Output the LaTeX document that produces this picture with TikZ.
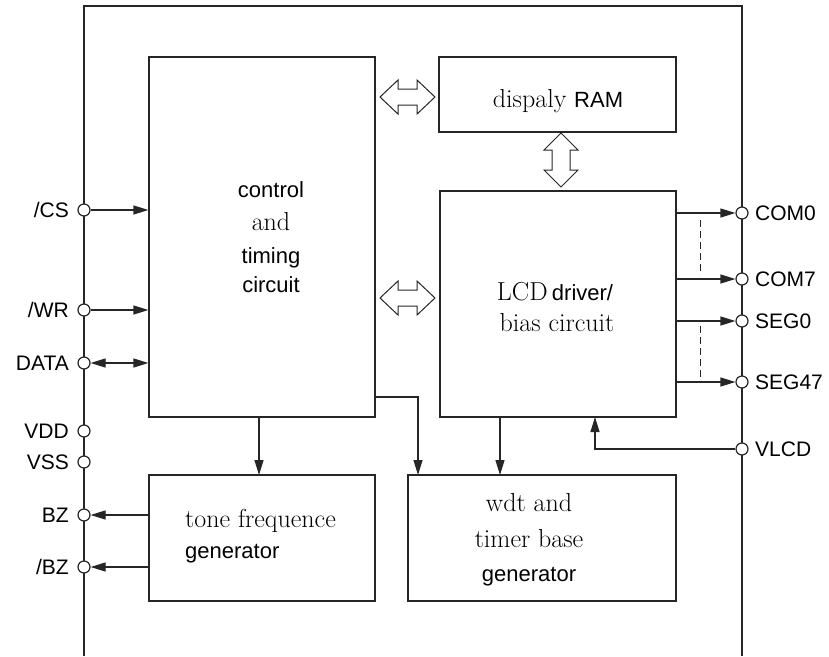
\documentclass[tikz,border=0pt]{standalone}
\usepackage{fontspec}
\newfontfamily\arl{Liberation Sans}
\usetikzlibrary{arrows.meta}
\begin{document}
\begin{tikzpicture}[x=1pt,y=-1pt,
  ln/.style={draw=black!85,line width=1.2pt},
  blk/.style={ln,rectangle,inner sep=0pt,fill=none},
  arr/.style={ln,-{Triangle[length=15pt,width=9pt]}},
  darr/.style={ln,{Triangle[length=15pt,width=9pt]}-{Triangle[length=15pt,width=9pt]}},
  pinc/.style={ln,circle,fill=white,inner sep=0pt,minimum size=12pt},
  lbl/.style={font=\arl\fontsize{21}{25}\selectfont,inner sep=0pt},
  txt/.style={inner sep=0pt,anchor=base,font=\fontsize{26}{30}\selectfont},
  stxt/.style={inner sep=0pt,anchor=base,font=\arl\fontsize{22}{26}\selectfont},
  hol/.style={draw=black!85,line width=1pt,fill=white}]
\useasboundingbox (0,0) rectangle (829,656);
% outer chip outline
\draw[ln] (84,656) -- (84,6) -- (742,6) -- (742,656);
% blocks
\node[blk,minimum width=226pt,minimum height=360pt] (ctrl) at (262,237) {};
\node[blk,minimum width=237pt,minimum height=75pt] (ram) at (557.5,94.5) {};
\node[blk,minimum width=236pt,minimum height=226pt] (lcd) at (558,304) {};
\node[blk,minimum width=226pt,minimum height=126pt] (tone) at (262,538) {};
\node[blk,minimum width=268pt,minimum height=126pt] (wdt) at (542,538) {};
% texts
\node[stxt] (t1) at (271,197) {control};
\node[txt] (t2) at (271,230) {and};
\node[stxt] (t3) at (271,263) {timing};
\node[stxt] (t4) at (271,292) {circuit};
\node[txt] (t5) at (558,107) {dispaly {\arl\fontsize{22}{26}\selectfont RAM}};
\node[txt] (t6) at (555,300) {LCD\,{\arl\fontsize{22}{26}\selectfont driver/}};
\node[txt] (t7) at (557,331) {bias circuit};
\node[txt,anchor=base west] (t8) at (185,527) {tone frequence};
\node[stxt,anchor=base west] (t9) at (185,558) {generator};
\node[txt] (t10) at (529,511) {wdt and};
\node[txt] (t11) at (529,547) {timer base};
\node[stxt] (t12) at (529,581) {generator};
% hollow double arrows
\draw[hol] (380,97) -- (398,80) -- (398,89) -- (417,89) -- (417,80) -- (435,97)
  -- (417,114) -- (417,105) -- (398,105) -- (398,114) -- cycle;
\draw[hol] (380,298) -- (398,281) -- (398,290) -- (417,290) -- (417,281) -- (435,298)
  -- (417,315) -- (417,306) -- (398,306) -- (398,315) -- cycle;
\draw[hol] (561,133) -- (578,150) -- (570,150) -- (570,170) -- (578,170) -- (561,187)
  -- (544,170) -- (552,170) -- (552,150) -- (544,150) -- cycle;
% internal connectors
\coordinate (c1) at (375,397);
\coordinate (w1) at (418,475);
\coordinate (c2) at (259,417);
\coordinate (tt) at (259,475);
\coordinate (l1) at (500,417);
\coordinate (w2) at (500,475);
\coordinate (vin) at (595,417);
\draw[arr] (c1) -| (w1);
\draw[arr] (c2) -- (tt);
\draw[arr] (l1) -- (w2);
% left pins
\node[pinc] (cs) at (84,210) {};
\node[pinc] (wr) at (84,310) {};
\node[pinc] (data) at (84,363) {};
\node[pinc] (vdd) at (84,431) {};
\node[pinc] (vss) at (84,462) {};
\node[pinc] (bz) at (84,515) {};
\node[pinc] (nbz) at (84,567) {};
\node[lbl,anchor=east] (lcs) at (69,210) {/CS};
\node[lbl,anchor=east] (lwr) at (69,310) {/WR};
\node[lbl,anchor=east] (ldata) at (69,363) {DATA};
\node[lbl,anchor=east] (lvdd) at (69,431) {VDD};
\node[lbl,anchor=east] (lvss) at (69,462) {VSS};
\node[lbl,anchor=east] (lbz) at (69,515) {BZ};
\node[lbl,anchor=east] (lnbz) at (69,567) {/BZ};
\draw[arr] (cs) -- (cs -| ctrl.west);
\draw[arr] (wr) -- (wr -| ctrl.west);
\draw[darr] (data) -- (data -| ctrl.west);
\draw[arr] (bz -| tone.west) -- (bz);
\draw[arr] (nbz -| tone.west) -- (nbz);
% right pins
\node[pinc] (com0) at (742,213) {};
\node[pinc] (com7) at (742,279) {};
\node[pinc] (seg0) at (742,321) {};
\node[pinc] (seg47) at (742,382) {};
\node[pinc] (vlcd) at (742,449) {};
\node[lbl,anchor=west] (lcom0) at (755,213) {COM0};
\node[lbl,anchor=west] (lcom7) at (755,279) {COM7};
\node[lbl,anchor=west] (lseg0) at (755,321) {SEG0};
\node[lbl,anchor=west] (lseg47) at (755,382) {SEG47};
\node[lbl,anchor=west] (lvlcd) at (755,449) {VLCD};
\draw[arr] (com0 -| lcd.east) -- (com0);
\draw[arr] (com7 -| lcd.east) -- (com7);
\draw[arr] (seg0 -| lcd.east) -- (seg0);
\draw[arr] (seg47 -| lcd.east) -- (seg47);
\draw[arr] (vlcd) -| (vin);
% dashed continuation marks
\coordinate (d1) at (700,220);
\coordinate (d2) at (700,275);
\coordinate (d3) at (700,326);
\coordinate (d4) at (700,379);
\draw[draw=black!85,line width=1pt,dash pattern=on 7pt off 4pt] (d1) -- (d2);
\draw[draw=black!85,line width=1pt,dash pattern=on 7pt off 4pt] (d3) -- (d4);
\end{tikzpicture}
\end{document}
